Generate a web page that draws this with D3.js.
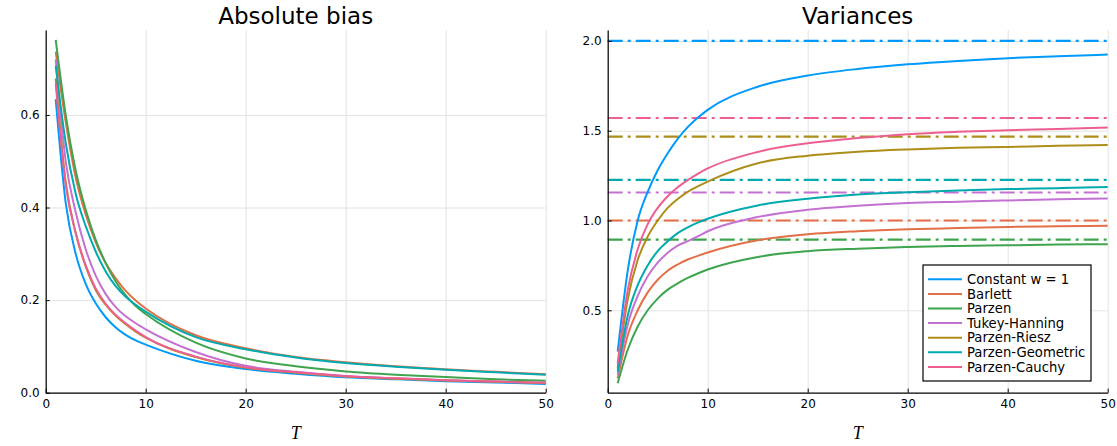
<!DOCTYPE html>
<html lang="en">
  <head>
    <meta charset="UTF-8" />
    <title>Bias and variances</title>
    <script src="https://d3js.org/d3.v7.min.js"></script>
    <style>
      body { margin: 0; background: #fff; }
      text { font-family: 'DejaVu Sans', sans-serif; }
    </style>
  </head>

  <body>
    <div id="graph"></div>
    <script>
      // sample points (T)
      const T = [1, 2, 3, 4, 5, 6, 7, 8, 9, 10, 15, 20, 25, 30, 35, 40, 45, 50]

      const names = ['Constant w = 1', 'Barlett', 'Parzen', 'Tukey-Hanning', 'Parzen-Riesz', 'Parzen-Geometric', 'Parzen-Cauchy']
      const colors = ['#009afa', '#e36f47', '#3ea44e', '#c371d2', '#ac8e18', '#00aaae', '#ed5e93']

      // absolute bias
      const biasConstant = [0.634, 0.41, 0.3, 0.235, 0.193, 0.163, 0.141, 0.125, 0.113, 0.104, 0.069, 0.051, 0.041, 0.0333, 0.029, 0.025, 0.022, 0.0188]
      const biasBarlett = [0.737, 0.585, 0.465, 0.385, 0.325, 0.28, 0.247, 0.22, 0.199, 0.182, 0.124, 0.096, 0.077, 0.0656, 0.057, 0.0505, 0.045, 0.0397]
      const biasParzen = [0.762, 0.6, 0.48, 0.395, 0.33, 0.28, 0.24, 0.21, 0.187, 0.17, 0.108, 0.074, 0.057, 0.046, 0.039, 0.034, 0.029, 0.0257]
      const biasTukey = [0.72, 0.5, 0.39, 0.31, 0.253, 0.213, 0.185, 0.165, 0.15, 0.137, 0.088, 0.058, 0.045, 0.036, 0.031, 0.027, 0.024, 0.0217]
      const biasRiesz = [0.679, 0.455, 0.345, 0.273, 0.222, 0.19, 0.166, 0.148, 0.132, 0.119, 0.077, 0.054, 0.043, 0.035, 0.03, 0.0265, 0.0235, 0.021]
      const biasGeometric = [0.706, 0.54, 0.43, 0.36, 0.305, 0.262, 0.23, 0.207, 0.19, 0.175, 0.12, 0.094, 0.076, 0.064, 0.056, 0.0495, 0.044, 0.039]
      const biasCauchy = [0.668, 0.45, 0.345, 0.275, 0.225, 0.192, 0.168, 0.15, 0.134, 0.12, 0.078, 0.055, 0.044, 0.0355, 0.031, 0.027, 0.024, 0.0213]

      // variances
      const varConstant = [0.27, 0.72, 1.0, 1.16, 1.28, 1.375, 1.455, 1.52, 1.572, 1.616, 1.745, 1.807, 1.844, 1.87, 1.889, 1.904, 1.915, 1.924]
      const varBarlett = [0.121, 0.36, 0.5, 0.6, 0.67, 0.72, 0.755, 0.783, 0.803, 0.822, 0.89, 0.923, 0.94, 0.951, 0.958, 0.964, 0.968, 0.971]
      const varParzen = [0.094, 0.28, 0.41, 0.5, 0.565, 0.615, 0.65, 0.68, 0.705, 0.727, 0.797, 0.829, 0.843, 0.852, 0.858, 0.862, 0.866, 0.868]
      const varTukey = [0.141, 0.42, 0.58, 0.69, 0.765, 0.82, 0.86, 0.885, 0.912, 0.94, 1.019, 1.06, 1.082, 1.097, 1.105, 1.112, 1.118, 1.123]
      const varRiesz = [0.177, 0.56, 0.78, 0.91, 1.0, 1.07, 1.12, 1.16, 1.19, 1.217, 1.319, 1.361, 1.383, 1.396, 1.405, 1.41, 1.416, 1.42]
      const varGeometric = [0.158, 0.47, 0.64, 0.75, 0.83, 0.885, 0.93, 0.962, 0.988, 1.01, 1.084, 1.121, 1.145, 1.158, 1.167, 1.175, 1.18, 1.186]
      const varCauchy = [0.205, 0.61, 0.84, 0.98, 1.07, 1.135, 1.185, 1.225, 1.26, 1.29, 1.382, 1.43, 1.459, 1.481, 1.494, 1.503, 1.51, 1.518]

      // limits (dash-dot lines)
      const limits = [2.0, 1.0, 0.894, 1.156, 1.467, 1.226, 1.571]

      const biasSeries = [biasConstant, biasBarlett, biasParzen, biasTukey, biasRiesz, biasGeometric, biasCauchy]
      const varSeries = [varConstant, varBarlett, varParzen, varTukey, varRiesz, varGeometric, varCauchy]

      const xTicks = [0, 10, 20, 30, 40, 50]

      const svg = d3.select('#graph').append('svg').attr('width', 1117).attr('height', 446)

      function panel(opts) {
        const x = d3.scaleLinear().domain([0, 50]).range([opts.left, opts.right])
        const y = d3.scaleLinear().domain(opts.yDomain).range([392.7, 30])
        const g = svg.append('g')

        // grid
        g.append('g')
          .attr('transform', 'translate(0,392.7)')
          .call(d3.axisBottom(x).tickValues(xTicks).tickSize(-362.7).tickFormat(''))
          .call((s) => s.select('.domain').remove())
          .call((s) => s.selectAll('line').attr('stroke', '#e3e3e3'))
        g.append('g')
          .attr('transform', `translate(${opts.left},0)`)
          .call(d3.axisLeft(y).tickValues(opts.yTicks).tickSize(-(opts.right - opts.left)).tickFormat(''))
          .call((s) => s.select('.domain').remove())
          .call((s) => s.selectAll('line').attr('stroke', '#e3e3e3'))

        const line = d3.line().x((d) => x(d[0])).y((d) => y(d[1])).curve(d3.curveMonotoneX)

        // dash-dot limits
        if (opts.limits) {
          g.selectAll('line.lim')
            .data(opts.limits)
            .join('line')
            .attr('x1', x(0))
            .attr('x2', x(50))
            .attr('y1', (d) => y(d))
            .attr('y2', (d) => y(d))
            .attr('stroke', (_, i) => colors[i])
            .attr('stroke-width', 2.2)
            .attr('stroke-dasharray', '15,5,3,5')
        }

        g.selectAll('path.curve')
          .data(opts.series)
          .join('path')
          .attr('class', 'curve')
          .attr('fill', 'none')
          .attr('stroke', (_, i) => colors[i])
          .attr('stroke-width', 2)
          .attr('d', (s) => line(T.map((t, i) => [t, s[i]])))

        // axes
        const xAxis = g.append('g')
          .attr('transform', 'translate(0,392.7)')
          .call(d3.axisBottom(x).tickValues(xTicks).tickSize(-4).tickPadding(7).tickSizeOuter(0))
        const yAxis = g.append('g')
          .attr('transform', `translate(${opts.left},0)`)
          .call(d3.axisLeft(y).tickValues(opts.yTicks).tickFormat(d3.format('.1f')).tickSize(-4).tickPadding(6).tickSizeOuter(0))
        for (const a of [xAxis, yAxis]) {
          a.selectAll('text').attr('font-size', 12).attr('fill', '#000').style('font-family', 'DejaVu Sans')
          a.select('.domain').attr('stroke', '#000').attr('stroke-width', 1.2)
          a.selectAll('line').attr('stroke', '#000')
        }

        const cx = (opts.left + opts.right) / 2
        g.append('text').attr('x', cx).attr('y', 24).attr('text-anchor', 'middle').attr('font-size', 23).text(opts.title)
        g.append('text')
          .attr('x', cx)
          .attr('y', 439)
          .attr('text-anchor', 'middle')
          .attr('font-size', 18)
          .attr('font-style', 'italic')
          .style('font-family', 'Liberation Serif, serif')
          .text('T')
      }

      panel({ left: 45.7, right: 545.7, yDomain: [0, 0.7835], yTicks: [0, 0.2, 0.4, 0.6], series: biasSeries, title: 'Absolute bias' })
      panel({ left: 607.7, right: 1107.7, yDomain: [0.041, 2.061], yTicks: [0.5, 1.0, 1.5, 2.0], series: varSeries, limits: limits, title: 'Variances' })

      // legend
      const legend = svg.append('g').attr('transform', 'translate(923,265)')
      legend.append('rect').attr('width', 168).attr('height', 116).attr('fill', '#fff').attr('stroke', '#000').attr('stroke-width', 1.2)
      const rows = legend.selectAll('g').data(names).join('g').attr('transform', (_, i) => `translate(0,${14.3 + i * 14.6})`)
      rows.append('line').attr('x1', 5).attr('x2', 39).attr('stroke', (_, i) => colors[i]).attr('stroke-width', 2)
      rows.append('text').attr('x', 44).attr('dy', '0.35em').attr('font-size', 13.2).text((d) => d)
    </script>
  </body>
</html>
